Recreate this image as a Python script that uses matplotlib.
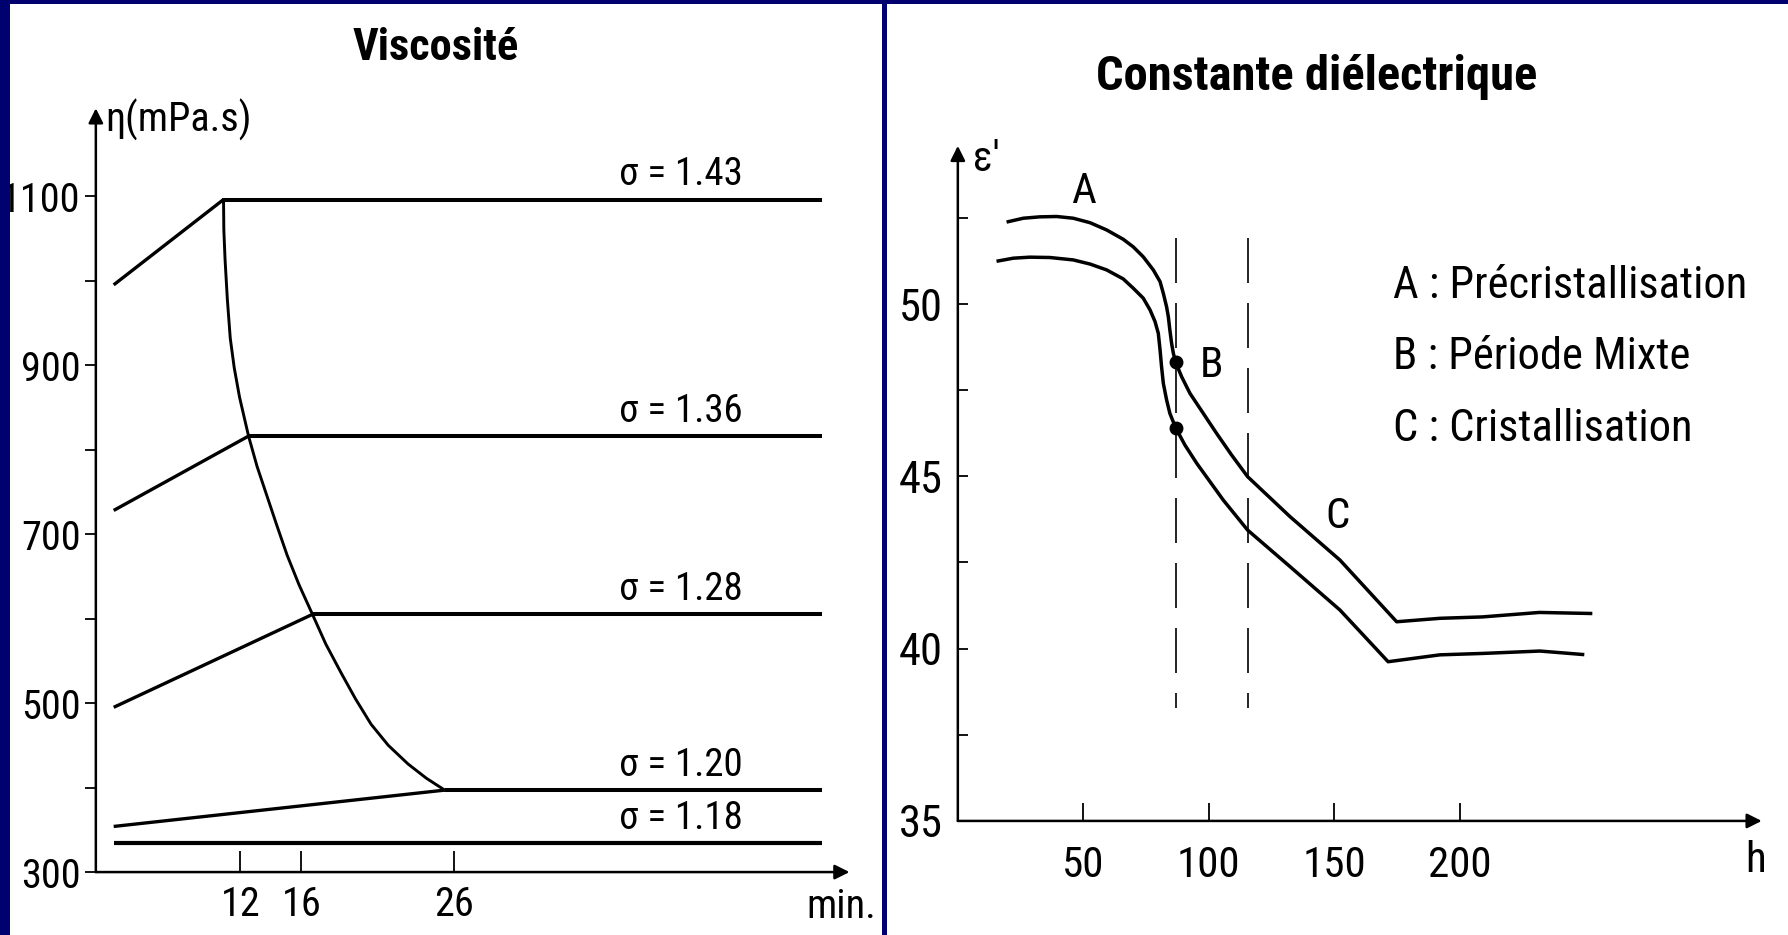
import matplotlib
matplotlib.use("Agg")
import matplotlib.pyplot as plt
from matplotlib.patches import Rectangle
from matplotlib import font_manager as fm

# ---------------- data ----------------
# Viscosité (left)
sigma_labels = ["σ = 1.43", "σ = 1.36", "σ = 1.28", "σ = 1.20", "σ = 1.18"]
visc_start_t = [3.7, 3.7, 3.7, 3.7, 3.7]
visc_start_eta = [995, 728, 495, 354, 334]
visc_gel_t = [10.9, 12.54, 16.73, 25.4, None]
visc_plateau_eta = [1096, 816, 605, 397, 334]
visc_end_t = 50.1
gel_t = [10.9, 10.92, 11.0, 11.15, 11.34, 11.6, 11.95, 12.54, 13.1, 13.75, 14.4, 15.07,
         15.85, 16.73, 17.6, 18.6, 19.55, 20.57, 21.7, 22.99, 24.2, 25.4]
gel_eta = [1096, 1060, 1025, 978, 932, 897, 862, 816, 780, 745, 710, 675,
           640, 605, 570, 536, 505, 475, 450, 428, 411, 397]
visc_xticks = [12, 16, 26]
visc_yticks = [300, 400, 500, 600, 700, 800, 900, 1000, 1100]
visc_ylabels = ["300", "", "500", "", "700", "", "900", "", "1100"]

# Constante diélectrique (right)
upper_h = [20.1, 26.1, 32.7, 39.4, 46.0, 52.7, 59.3, 65.9, 69.9, 73.9, 77.9, 80.6, 81.9,
           83.2, 83.9, 84.5, 85.2, 85.9, 86.8, 89.2, 92.5, 97.8, 103.1, 109.1, 115.5,
           132.4, 152.3, 174.9, 192.2, 209, 231.8, 252.2]
upper_eps = [52.39, 52.49, 52.53, 52.54, 52.49, 52.36, 52.15, 51.88, 51.66, 51.37, 50.99,
             50.65, 50.31, 49.92, 49.63, 49.25, 48.86, 48.57, 48.31, 47.89, 47.41, 46.83,
             46.25, 45.62, 44.99, 43.83, 42.57, 40.78, 40.88, 40.92, 41.05, 41.02]
lower_h = [16.1, 22.1, 28.7, 36.7, 46.0, 52.7, 59.3, 65.9, 69.9, 73.9, 76.6, 78.6, 79.9,
           80.6, 81.2, 81.9, 83.2, 84.5, 86.8, 90.5, 95.2, 105.8, 115.5, 132.4, 152.3,
           171.5, 192.2, 209, 232, 249]
lower_eps = [51.25, 51.33, 51.36, 51.35, 51.28, 51.16, 50.99, 50.73, 50.46, 50.17, 49.83,
             49.49, 49.15, 48.67, 48.18, 47.70, 47.22, 46.83, 46.41, 45.91, 45.38, 44.31,
             43.44, 42.38, 41.12, 39.62, 39.82, 39.86, 39.93, 39.83]
dot_h = [86.8, 86.8]
dot_eps = [48.31, 46.41]
dash_h = [86.8, 115.5]
dash_eps_range = [51.91, 38.27]
diel_xticks = [50, 100, 150, 200]
diel_yticks = [35, 37.5, 40, 42.5, 45, 47.5, 50, 52.5]
diel_ylabels = ["35", "", "40", "", "45", "", "50", ""]
phase_letters = ["A", "B", "C"]
phase_names = ["A : Précristallisation", "B : Période Mixte", "C : Cristallisation"]

# ---------------- fonts ----------------
names = {f.name for f in fm.fontManager.ttflist}
cond = None
for cand in ["Liberation Sans Narrow", "DejaVu Sans Condensed", "Roboto Condensed", "Open Sans Condensed"]:
    if cand in names:
        cond = cand
        break
fam = [cond, "DejaVu Sans"] if cond else ["Liberation Sans", "DejaVu Sans"]
plt.rcParams["font.family"] = fam

W, H = 1788, 935
NAVY = "#00006e"
fig = plt.figure(figsize=(W / 100, H / 100), dpi=100, facecolor=NAVY)

def fx(px):
    return px / W

def fy(py):
    return 1 - py / H

# white panels
fig.patches.append(Rectangle((fx(10), 0), fx(882 - 10), fy(4), transform=fig.transFigure,
                             facecolor="white", edgecolor="none", zorder=-5))
fig.patches.append(Rectangle((fx(887), 0), fx(W - 887), fy(4), transform=fig.transFigure,
                             facecolor="white", edgecolor="none", zorder=-5))

ARROW = dict(arrowstyle="-|>", lw=1.8, color="black", mutation_scale=22, shrinkA=0, shrinkB=0)

# ---------------- left: viscosity ----------------
axL = fig.add_axes([0.0536, 0.0673, 0.4215, 0.8169])
axL.set_facecolor("none")
axL.set_xlim(2.53, 51.93)
axL.set_ylim(300, 1204)
for s in axL.spines.values():
    s.set_visible(False)
axL.annotate("", xy=(0, 1), xytext=(0, 0), xycoords="axes fraction", arrowprops=ARROW)
axL.annotate("", xy=(1, 0), xytext=(0, 0), xycoords="axes fraction", arrowprops=ARROW)

for i in range(len(sigma_labels)):
    if visc_gel_t[i] is not None:
        axL.plot([visc_start_t[i], visc_gel_t[i]], [visc_start_eta[i], visc_plateau_eta[i]],
                 color="black", lw=2.4, solid_capstyle="butt")
        axL.plot([visc_gel_t[i], visc_end_t], [visc_plateau_eta[i], visc_plateau_eta[i]],
                 color="black", lw=2.9, solid_capstyle="butt")
    else:
        axL.plot([visc_start_t[i], visc_end_t], [visc_plateau_eta[i], visc_plateau_eta[i]],
                 color="black", lw=3.0, solid_capstyle="butt")
    axL.annotate(sigma_labels[i], xy=(40.9, visc_plateau_eta[i]), xytext=(0, 18),
                 textcoords="offset points", ha="center", va="center", fontsize=28)

axL.plot(gel_t, gel_eta, color="black", lw=2.1, solid_joinstyle="round")

axL.set_xticks(visc_xticks)
axL.set_xticklabels([str(v) for v in visc_xticks])
axL.set_yticks(visc_yticks)
axL.set_yticklabels(visc_ylabels)
axL.tick_params(axis="x", direction="in", length=15, width=1.3, pad=9, labelsize=29)
axL.tick_params(axis="y", direction="out", length=8, width=1.3, pad=3, labelsize=29)
axL.text(49.1, 259, "min.", ha="left", va="center", fontsize=29, clip_on=False)

fig.text(fx(435.6), fy(47.9), "Viscosité", ha="center", va="center", fontsize=32,
         fontweight="bold")
fig.text(fx(104.9), fy(119.7), "η(mPa.s)", ha="left", va="center", fontsize=29)

# ---------------- right: dielectric constant ----------------
axR = fig.add_axes([0.5357, 0.1220, 0.4496, 0.7220])
axR.set_facecolor("none")
axR.set_xlim(0, 320.4)
axR.set_ylim(35, 54.59)
for s in axR.spines.values():
    s.set_visible(False)
axR.annotate("", xy=(0, 1), xytext=(0, 0), xycoords="axes fraction", arrowprops=ARROW)
axR.annotate("", xy=(1, 0), xytext=(0, 0), xycoords="axes fraction", arrowprops=ARROW)

axR.plot(upper_h, upper_eps, color="black", lw=2.5, solid_joinstyle="round")
axR.plot(lower_h, lower_eps, color="black", lw=2.5, solid_joinstyle="round")
for h in dash_h:
    axR.plot([h, h], dash_eps_range, color="black", lw=1.2, linestyle=(0, (27, 12)))
axR.plot(dot_h, dot_eps, "o", color="black", markersize=9, linestyle="none")

axR.text(50, 53.26, phase_letters[0], ha="center", va="center", fontsize=31)
axR.text(101.3, 48.23, phase_letters[1], ha="center", va="center", fontsize=31)
axR.text(151.3, 43.83, phase_letters[2], ha="center", va="center", fontsize=31)
for name, e in zip(phase_names, [50.52, 48.47, 46.38]):
    axR.text(173.6, e, name, ha="left", va="center", fontsize=32)

axR.set_xticks(diel_xticks)
axR.set_xticklabels([str(v) for v in diel_xticks])
axR.set_yticks(diel_yticks)
axR.set_yticklabels(diel_ylabels)
axR.tick_params(axis="x", direction="in", length=13, width=1.3, pad=17, labelsize=31)
axR.tick_params(axis="y", direction="in", length=7, width=1.3, pad=11, labelsize=32)
axR.text(318, 33.84, "h", ha="center", va="center", fontsize=31, clip_on=False)

fig.text(fx(1317), fy(77.5), "Constante diélectrique", ha="center", va="center",
         fontsize=35, fontweight="bold")
fig.text(fx(972.7), fy(159.6), "ε'", ha="left", va="center", fontsize=30)

# blue frame on top
for (x0, y0, w, h) in [(0, 0, 10, H), (0, 0, W, 4), (882, 0, 5, H)]:
    fig.patches.append(Rectangle((fx(x0), fy(y0 + h)), fx(w), h / H, transform=fig.transFigure,
                                 facecolor=NAVY, edgecolor="none", zorder=10))

fig.savefig("out.png", dpi=100, facecolor=NAVY)
